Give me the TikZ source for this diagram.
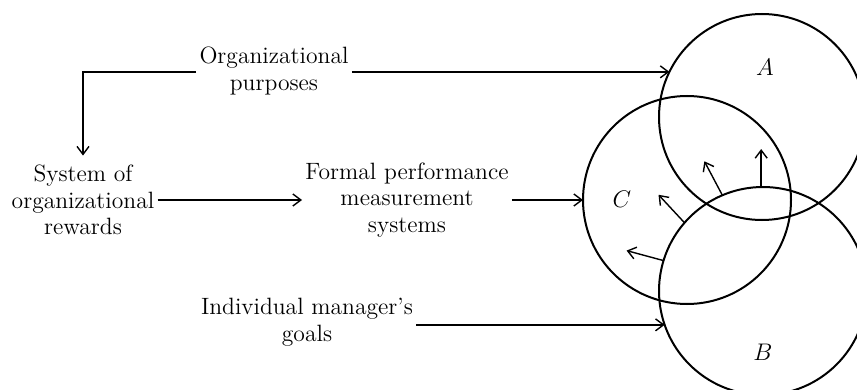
\documentclass[tikz,border=0pt]{standalone}
\usetikzlibrary{arrows.meta}
\begin{document}
\begin{tikzpicture}[x=0.5pt,y=-0.5pt,
  lbl/.style={align=center,font=\fontsize{11.8}{13.3}\selectfont,inner sep=1.5pt},
  ring/.style={draw,circle,line width=1pt,inner sep=0pt,outer sep=0pt},
  conn/.style={line width=0.7pt,-{Straight Barb[length=4pt,width=6pt]}},
  tag/.style={font=\fontsize{12}{13}\selectfont,inner sep=0pt}]
\clip (0,0) rectangle (857,390);
\node[lbl] (purp) at (274,71) {Organizational\\purposes};
\node[lbl] (rew) at (83,200) {System of\\organizational\\rewards};
\node[lbl] (form) at (407,200) {Formal performance\\measurement\\systems};
\node[lbl] (ind) at (307,322) {Individual manager's\\goals};
\node[ring,minimum size=103pt] (cA) at (762,117) {};
\node[ring,minimum size=104pt] (cC) at (687,200) {};
\node[ring,minimum size=104pt] (cB) at (763,291) {};
\node[tag] (lA) at (765,67) {$A$};
\node[tag] (lC) at (622,199) {$C$};
\node[tag] (lB) at (763,352) {$B$};
\coordinate (pA) at (cA.154.4);
\coordinate (pB) at (cB.199.6);
\draw[conn] (purp.east |- pA) -- (pA);
\draw[conn,shorten >=3pt] (purp.west |- pA) -| (rew.north);
\draw[conn] (rew.east) -- (form.west);
\draw[conn] (form.east) -- (cC.west);
\draw[conn] (ind.east |- pB) -- (pB);
\draw[conn] (cB.91.3) -- ++(0,-38);
\draw[conn] (cB.113.3) -- ++(-18,-34);
\draw[conn] (cB.139.4) -- ++(-26,-28);
\draw[conn] (cB.163.9) -- ++(-37,-10);
\end{tikzpicture}
\end{document}
